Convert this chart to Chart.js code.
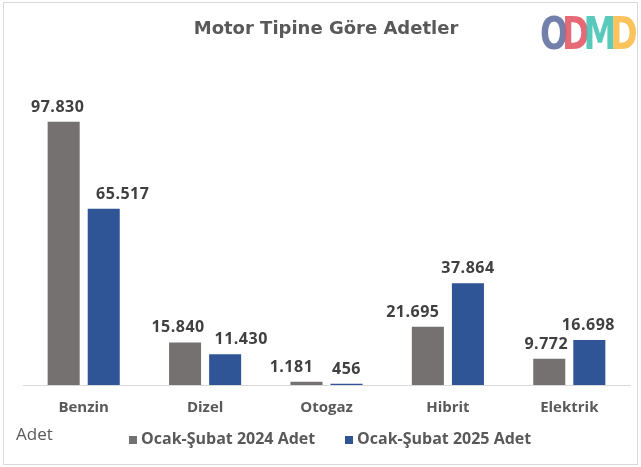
<!DOCTYPE html>
<html>
<head>
<meta charset="utf-8">
<script src="https://cdn.jsdelivr.net/npm/chart.js@4.4.0/dist/chart.umd.min.js"></script>
<style>
    body { margin: 0; background: #fff; }
    #wrap { position: relative; width: 641px; height: 467px; overflow: hidden; }
    #frame { position: absolute; left: 3px; top: 2px; width: 633px; height: 461px; border: 1px solid #d9d9d9; }
    #title { position: absolute; left: 0; width: 652px; top: 17px; text-align: center; font: bold 18px "DejaVu Sans", sans-serif; color: #595959; }
    #logo { position: absolute; left: 540px; top: 12px; font: bold 44px/44px "DejaVu Sans", sans-serif; letter-spacing: -8px; transform: scaleX(0.75); transform-origin: left top; white-space: nowrap; }
    #logo span { opacity: 0.85; }
    #axisName { position: absolute; left: 16px; top: 422px; font: 17px "Open Sans", sans-serif; color: #595959; }
    .leg { position: absolute; top: 427px; font: bold 16px "Open Sans", sans-serif; color: #595959; white-space: nowrap; }
    .sq { position: absolute; top: 436px; width: 8px; height: 8px; }
</style>
</head>
<body>
<div id="wrap">
    <canvas id="chart" width="641" height="467"></canvas>
    <div id="frame"></div>
    <div id="title">Motor Tipine Göre Adetler</div>
    <div id="logo"><span style="color:#5a6a9c">O</span><span style="color:#e2505f">D</span><span style="color:#3cc0b1">M</span><span style="color:#fbb940">D</span></div>
    <div id="axisName">Adet</div>
    <div class="sq" style="left:129px; background:#767171"></div>
    <div class="leg" style="left:141px">Ocak-Şubat 2024 Adet</div>
    <div class="sq" style="left:345px; background:#2f5597"></div>
    <div class="leg" style="left:357px">Ocak-Şubat 2025 Adet</div>
</div>
<script>
const categories = ['Benzin', 'Dizel', 'Otogaz', 'Hibrit', 'Elektrik'];
const values2024 = [97830, 15840, 1181, 21695, 9772];
const values2025 = [65517, 11430, 456, 37864, 16698];

// the value labels were nudged sideways by hand in the original
const labelShift = [
    [-6, -7, -15, -15, -3],
    [19, 16, 0, 0, -1]
];

function fmt(v) {
    return String(v).replace(/\B(?=(\d{3})+(?!\d))/g, '.');
}

const labelPlugin = {
    id: 'barLabels',
    afterDatasetsDraw(chart) {
        const ctx = chart.ctx;
        ctx.save();
        ctx.font = 'bold 16px "Open Sans", sans-serif';
        ctx.letterSpacing = '0.5px';
        ctx.fillStyle = '#404040';
        ctx.textAlign = 'center';
        ctx.textBaseline = 'alphabetic';
        chart.data.datasets.forEach((ds, i) => {
            chart.getDatasetMeta(i).data.forEach((bar, j) => {
                ctx.fillText(fmt(ds.data[j]), bar.x + labelShift[i][j], bar.y - 10);
            });
        });
        ctx.restore();
    }
};

new Chart(document.getElementById('chart'), {
    type: 'bar',
    data: {
        labels: categories,
        datasets: [
            { label: 'Ocak-Şubat 2024 Adet', data: values2024, backgroundColor: '#767171' },
            { label: 'Ocak-Şubat 2025 Adet', data: values2025, backgroundColor: '#2f5597' }
        ]
    },
    options: {
        responsive: false,
        animation: false,
        layout: { padding: { left: 23, right: 11, top: 116, bottom: 44 } },
        categoryPercentage: 0.66,
        barPercentage: 0.8,
        plugins: {
            legend: { display: false },
            tooltip: { enabled: false }
        },
        scales: {
            y: { display: false, min: 0, max: 100000 },
            x: {
                grid: { display: false },
                border: { display: true, color: '#d9d9d9' },
                ticks: { color: '#595959', font: { family: 'Open Sans', size: 15, weight: 'bold' }, padding: 6 }
            }
        }
    },
    plugins: [labelPlugin]
});
</script>
</body>
</html>
